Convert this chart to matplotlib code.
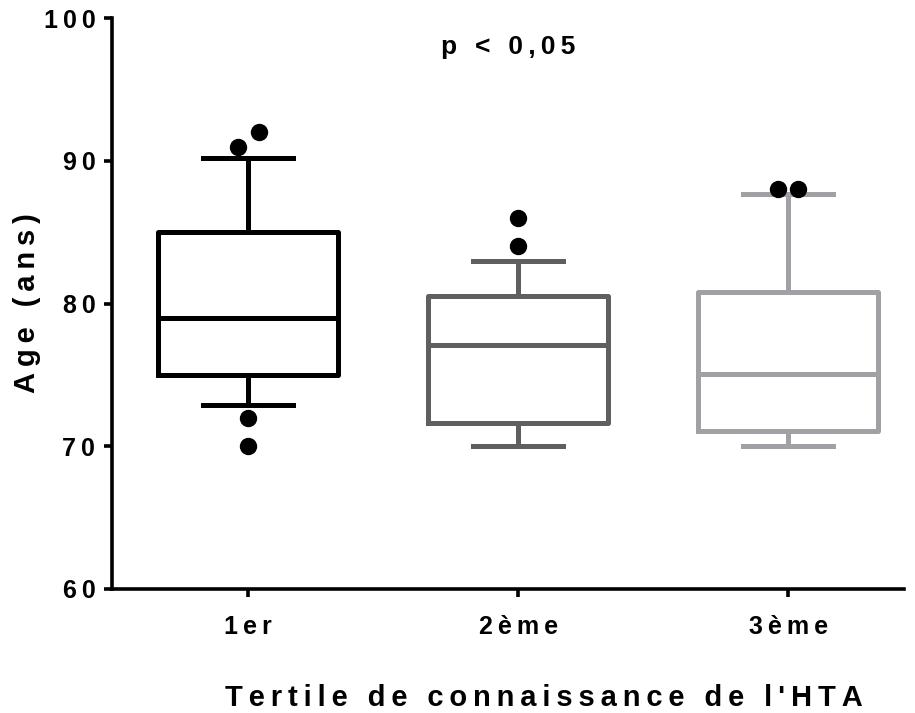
import matplotlib
matplotlib.use("Agg")
import matplotlib.pyplot as plt

plt.rcParams['font.family'] = ['Liberation Sans', 'DejaVu Sans']
plt.rcParams['font.weight'] = 'bold'

categories = ["1er", "2ème", "3ème"]
q1 = [75.0, 71.6, 71.1]
med = [79.0, 77.1, 75.05]
q3 = [85.0, 80.5, 80.8]
whis_lo = [72.9, 70.0, 70.0]
whis_hi = [90.2, 83.0, 87.7]
outliers = [[91.0, 92.0, 72.0, 70.0], [86.0, 84.0], [88.0, 88.0]]
outlier_offsets = [[-0.039, 0.039, 0.0, 0.0], [0.0, 0.0], [-0.037, 0.037]]
colors = ["#000000", "#5f5f5f", "#a1a0a4"]
yticks = [60, 70, 80, 90, 100]
xlabel = "Tertile de connaissance de l'HTA"
ylabel = "Age (ans)"
annotation = "p < 0,05"


def spaced(s, sep='\u2009'):
    return sep.join(list(s))


fig = plt.figure(figsize=(9.15, 7.13), dpi=100)
ax = fig.add_axes([0.1224, 0.174, 0.866, 0.8006])

positions = [1, 2, 3]
for i, pos in enumerate(positions):
    stats = [dict(med=med[i], q1=q1[i], q3=q3[i], whislo=whis_lo[i],
                  whishi=whis_hi[i], fliers=[])]
    c = colors[i]
    lw = 3.6
    ax.bxp(stats, positions=[pos], widths=0.667, showfliers=False,
           boxprops=dict(color=c, linewidth=lw),
           medianprops=dict(color=c, linewidth=lw),
           whiskerprops=dict(color=c, linewidth=lw),
           capprops=dict(color=c, linewidth=lw), capwidths=0.333,
           manage_ticks=False)
    xs = [pos + o for o in outlier_offsets[i]]
    ax.plot(xs, outliers[i], 'o', color='black', markersize=11.5, zorder=5)

ax.set_xlim(0.496, 3.43)
ax.set_ylim(60, 100)
ax.set_yticks(yticks)
ax.set_yticklabels([spaced(str(t)) for t in yticks])
ax.set_xticks(positions)
ax.set_xticklabels([spaced(c) for c in categories])

for s in ['top', 'right']:
    ax.spines[s].set_visible(False)
for s in ['left', 'bottom']:
    ax.spines[s].set_linewidth(2.6)

ax.tick_params(axis='both', direction='out', length=6, width=2.6,
               labelsize=18)
ax.tick_params(axis='y', pad=6)
ax.tick_params(axis='x', pad=13)

ax.set_xlabel(spaced(xlabel), fontsize=21, fontweight='bold')
ax.xaxis.set_label_coords(0.545, -0.166)
ax.set_ylabel(spaced(ylabel), fontsize=21, fontweight='bold')
ax.yaxis.set_label_coords(-0.09, 0.5)

ax.text(1.963, 98.0, spaced(annotation), ha='center', va='center',
        fontsize=19, fontweight='bold')

fig.savefig("out.png", dpi=100)
